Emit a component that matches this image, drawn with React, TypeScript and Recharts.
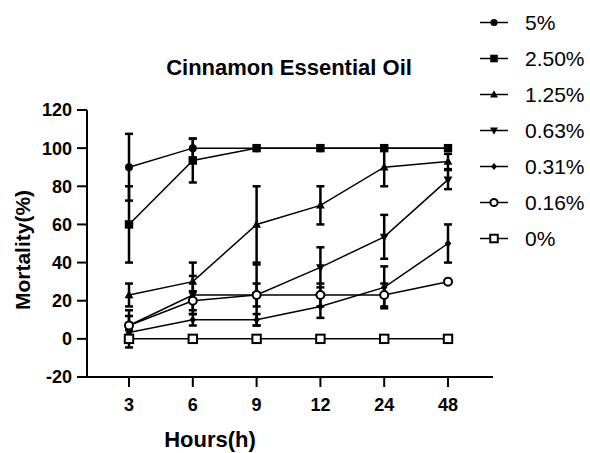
import React from 'react';
import { LineChart, Line, XAxis, YAxis, ErrorBar } from 'recharts';

const hours = ['3', '6', '9', '12', '24', '48'];
const yTicks = [-20, 0, 20, 40, 60, 80, 100, 120];

const seriesNames = ['5%', '2.50%', '1.25%', '0.63%', '0.31%', '0.16%', '0%'];
const s5 = [90, 100, 100, 100, 100, 100];
const e5 = [17.5, 5, null, null, null, null];
const s250 = [60, 93.5, 100, 100, 100, 100];
const e250 = [20, 11.5, null, null, null, null];
const s125 = [23, 30, 60, 70, 90, 93];
const e125 = [6, 10, 20, 10, 10, 4];
const s063 = [7, 23, 23, 37.5, 53.5, 83.5];
const e063 = [8, 10, 16, 10.5, 11.5, 5];
const s031 = [3.3, 10, 10, 17, 27, 50];
const e031 = [5, 3, 3, 6, 11, 10];
const s016 = [7, 20, 23, 23, 23, 30];
const e016 = [5, 5, 6, 6, 6, null];
const s0 = [0, 0, 0, 0, 0, 0];
const e0 = [4.5, null, null, null, null, null];

const values = [s5, s250, s125, s063, s031, s016, s0];
const errors = [e5, e250, e125, e063, e031, e016, e0];
const shapes = ['circle', 'square', 'triangle', 'down', 'diamond', 'ocircle', 'osquare'];

const data = hours.map((h, i) => {
  const row: any = { hour: h };
  values.forEach((arr, k) => {
    row['v' + k] = arr[i];
    row['e' + k] = errors[k][i];
  });
  return row;
});

const FONT = '"Liberation Sans", Arial, sans-serif';

function Marker({ shape, cx, cy, s = 1 }: { shape: string; cx: number; cy: number; s?: number }) {
  if (cx == null || cy == null) return null;
  switch (shape) {
    case 'circle':
      return <circle cx={cx} cy={cy} r={4 * s} fill="#000" />;
    case 'square':
      return <rect x={cx - 4.2 * s} y={cy - 4.2 * s} width={8.4 * s} height={8.4 * s} fill="#000" />;
    case 'triangle':
      return <polygon points={`${cx},${cy - 4.8 * s} ${cx + 4.4 * s},${cy + 3.2 * s} ${cx - 4.4 * s},${cy + 3.2 * s}`} fill="#000" />;
    case 'down':
      return <polygon points={`${cx},${cy + 4.8 * s} ${cx + 4.4 * s},${cy - 3.2 * s} ${cx - 4.4 * s},${cy - 3.2 * s}`} fill="#000" />;
    case 'diamond':
      return <polygon points={`${cx},${cy - 4 * s} ${cx + 3.3 * s},${cy} ${cx},${cy + 4 * s} ${cx - 3.3 * s},${cy}`} fill="#000" />;
    case 'ocircle':
      return <circle cx={cx} cy={cy} r={4 * s} fill="#fff" stroke="#000" strokeWidth={2} />;
    case 'osquare':
      return <rect x={cx - 4.2 * s} y={cy - 4.2 * s} width={8.4 * s} height={8.4 * s} fill="#fff" stroke="#000" strokeWidth={2} />;
    default:
      return null;
  }
}

export default function App() {
  return (
    <div style={{ position: 'absolute', left: 0, top: 0, width: 590, height: 453, background: '#fff' }}>
      <LineChart width={590} height={453} data={data} margin={{ top: 110, right: 97, bottom: 26, left: 27 }}>
        <XAxis
          dataKey="hour"
          padding={{ left: 42, right: 45 }}
          axisLine={{ stroke: '#000', strokeWidth: 2 }}
          tickLine={{ stroke: '#000', strokeWidth: 2 }}
          tickSize={10}
          tickMargin={11}
          height={50}
          tick={{ fill: '#000', fontSize: 18, fontWeight: 'bold', fontFamily: FONT }}
        />
        <YAxis
          type="number"
          domain={[-20, 120]}
          ticks={yTicks}
          interval={0}
          width={60}
          axisLine={{ stroke: '#000', strokeWidth: 2 }}
          tickLine={{ stroke: '#000', strokeWidth: 2 }}
          tickSize={10}
          tickMargin={5}
          tick={{ fill: '#000', fontSize: 18, fontWeight: 'bold', fontFamily: FONT }}
        />
        {values.map((_, k) => (
          <Line
            key={k}
            dataKey={'v' + k}
            stroke="#000"
            strokeWidth={1.5}
            isAnimationActive={false}
            dot={(p: any) => <Marker key={`m${k}-${p.index}`} shape={shapes[k]} cx={p.cx} cy={p.cy} />}
            activeDot={false}
          >
            <ErrorBar dataKey={'e' + k} direction="y" width={4} stroke="#000" strokeWidth={2.5} />
          </Line>
        ))}
      </LineChart>
      <svg width={590} height={453} style={{ position: 'absolute', left: 0, top: 0, pointerEvents: 'none' }}>
        <text x={289} y={75} textAnchor="middle" fontFamily={FONT} fontWeight="bold" fontSize={22} fill="#000">
          Cinnamon Essential Oil
        </text>
        <text x={210} y={447} textAnchor="middle" fontFamily={FONT} fontWeight="bold" fontSize={22} fill="#000">
          Hours(h)
        </text>
        <text
          x={0}
          y={0}
          transform="translate(30,250) rotate(-90)"
          textAnchor="middle"
          fontFamily={FONT}
          fontWeight="bold"
          fontSize={21}
          fill="#000"
        >
          Mortality(%)
        </text>
        {seriesNames.map((name, k) => {
          const base = 29.5 + 36 * k;
          const cy = base - 7;
          return (
            <g key={name}>
              <line x1={480} x2={508} y1={cy} y2={cy} stroke="#000" strokeWidth={1.5} />
              <Marker shape={shapes[k]} cx={494} cy={cy} s={0.9} />
              <text x={525} y={base} fontFamily={FONT} fontSize={21} fill="#000">
                {name}
              </text>
            </g>
          );
        })}
      </svg>
    </div>
  );
}
